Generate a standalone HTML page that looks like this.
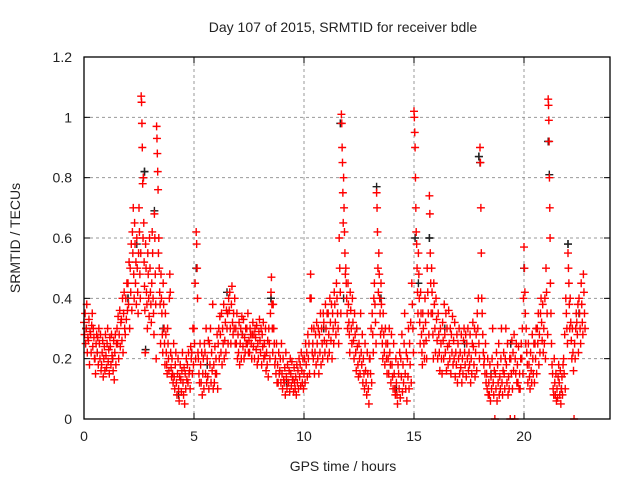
<!DOCTYPE html>
<html><head><meta charset="utf-8"><style>
body{margin:0;background:#fff}
svg text{font-family:"Liberation Sans",sans-serif;fill:#222}
</style></head><body>
<svg id="c" width="640" height="480">
<rect width="640" height="480" fill="#fff"/>
<g id="grid"></g>
<g id="blk"></g>
<g id="red"></g>
<rect x="84" y="57" width="526" height="362" fill="none" stroke="#000" stroke-width="1.3"/>
<g id="ticks"></g>
<text x="343" y="32" font-size="14" text-anchor="middle">Day 107 of 2015, SRMTID for receiver bdle</text>
<text x="343" y="471" font-size="14" text-anchor="middle">GPS time / hours</text>
<text x="20" y="238" font-size="14" text-anchor="middle" transform="rotate(-90 20 238)">SRMTID / TECUs</text>
</svg>
<script>
const xTicks=[0,5,10,15,20];
const yTicks=[0,0.2,0.4,0.6,0.8,1,1.2];
const yTickLabels=["0","0.2","0.4","0.6","0.8","1","1.2"];
const binStart=0, binWidth=0.1;
const redBins=[
[.32,.28,.35,.25],[.30,.38,.22,.27],[.26,.33,.18,.29],[.28,.22,.31,.35],[.24,.30,.27,.20],
[.20,.15,.25,.28],[.22,.27,.18,.30],[.25,.20,.28,.16],[.18,.22,.26,.14],[.20,.24,.16,.28],
[.21,.17,.25,.30],[.19,.23,.15,.27],[.24,.18,.28,.21],[.20,.16,.26,.13],[.22,.28,.18,.25],
[.30,.25,.34,.20],[.28,.36,.24,.32],[.33,.26,.40,.22],[.35,.42,.30,.28],[.40,.33,.45,.36],
[.45,.38,.52,.30],[.50,.42,.58,.36],[.62,.55,.70,.48,.40],[.65,.58,.45,.52,.38],[.60,.50,.42,.35,.55],
[.70,.62,.48,.40,.55],[1.07,1.05,.98,.90,.78,.60],[.80,.65,.52,.44,.36,.22],[.58,.50,.42,.38,.30],[.55,.48,.40,.34,.60],
[.50,.42,.38,.32,.45],[.62,.55,.40,.35,.28],[.68,.60,.48,.38,.20],[.97,.93,.88,.82,.76,.55],[.60,.50,.42,.38,.25],
[.48,.40,.35,.28,.22],[.45,.38,.30,.25,.18],[.35,.28,.22,.18,.15],[.30,.25,.20,.16,.40],[.48,.42,.22,.17,.14],
[.20,.15,.12,.25],[.14,.10,.18,.22],[.12,.08,.15,.20],[.10,.06,.14,.18],[.13,.09,.16,.22],
[.12,.08,.17,.05],[.15,.10,.20,.13],[.18,.12,.22,.15],[.16,.10,.24,.20],[.22,.15,.30,.18],
[.30,.25,.45,.20],[.62,.58,.50,.40,.22],[.20,.15,.12,.25],[.18,.12,.22,.08],[.15,.20,.10,.25],
[.22,.15,.30,.12],[.20,.14,.26,.10],[.25,.18,.30,.12],[.22,.16,.38,.10],[.18,.12,.24,.15],
[.20,.15,.28,.10],[.25,.30,.20,.34],[.28,.22,.35,.18],[.30,.25,.38,.20],[.26,.32,.22,.36],
[.30,.35,.25,.40],[.36,.42,.30,.25],[.38,.44,.32,.28],[.35,.30,.40,.25],[.30,.25,.35,.20],
[.28,.22,.32,.18],[.25,.30,.20,.34],[.28,.24,.33,.20],[.27,.22,.30,.25],[.30,.25,.35,.22],
[.26,.22,.30,.28],[.25,.20,.28,.32],[.24,.28,.20,.30],[.27,.23,.31,.18],[.25,.20,.29,.33],
[.26,.22,.30,.18],[.28,.24,.32,.20],[.25,.21,.30,.16],[.22,.18,.26,.14],[.30,.25,.20,.35],
[.42,.47,.38,.30,.22],[.38,.30,.25,.18],[.20,.15,.25,.12],[.18,.12,.22,.15],[.16,.20,.12,.25],
[.15,.10,.20,.13],[.12,.17,.08,.22],[.14,.10,.18,.12],[.12,.16,.09,.20],[.15,.11,.19,.13],
[.13,.09,.17,.12],[.10,.14,.08,.18],[.12,.16,.10,.20],[.14,.18,.11,.22],[.16,.12,.20,.10],
[.15,.20,.12,.25],[.18,.22,.14,.28],[.20,.25,.15,.40],[.48,.40,.30,.22],[.25,.20,.30,.15],
[.22,.28,.18,.32],[.25,.20,.30,.15],[.28,.22,.35,.18],[.30,.25,.20,.35],[.32,.26,.22,.38],
[.30,.25,.35,.20],[.35,.28,.22,.40],[.32,.26,.38,.20],[.35,.30,.25,.42],[.38,.32,.28,.45],
[.40,.35,.30,.25],[.60,.50,.42,.35],[1.01,.98,.90,.85,.75,.65],[.80,.70,.62,.55,.48],[.50,.45,.40,.35,.30],
[.45,.38,.32,.28,.22],[.42,.36,.30,.25],[.40,.32,.26,.20],[.35,.28,.22,.16],[.30,.24,.18,.14],
[.25,.20,.15,.35],[.22,.18,.28,.12],[.20,.15,.10,.25],[.16,.12,.08,.22],[.15,.10,.05,.20],
[.20,.15,.30,.12],[.35,.28,.22,.40],[.45,.38,.32,.25],[.75,.70,.62,.50,.42],[.55,.48,.40,.35,.28],
[.45,.38,.30,.25,.20],[.35,.28,.22,.18],[.30,.25,.20,.15],[.25,.20,.15,.30],[.22,.18,.12,.28],
[.18,.14,.10,.25],[.15,.10,.08,.20],[.12,.08,.05,.18],[.15,.10,.22,.07],[.20,.14,.28,.09],
[.18,.12,.25,.35],[.15,.10,.22,.06],[.20,.14,.30,.10],[.25,.18,.32,.12],[.45,.38,.30,.22],
[1.02,1.0,.95,.90,.80,.70],[.62,.58,.50,.42,.35],[.55,.48,.40,.32,.25],[.42,.35,.28,.22,.18],[.35,.30,.25,.20],
[.40,.32,.26,.20],[.50,.42,.35,.28],[.74,.68,.55,.45,.35],[.50,.42,.35,.28,.20],[.45,.38,.30,.22],
[.40,.33,.26,.20],[.35,.28,.22,.16],[.30,.25,.20,.15],[.32,.26,.20,.38],[.28,.22,.35,.16],
[.30,.24,.18,.36],[.25,.20,.30,.15],[.28,.22,.34,.18],[.26,.20,.32,.14],[.22,.18,.28,.12],
[.25,.20,.30,.15],[.22,.17,.28,.12],[.20,.15,.26,.30],[.22,.18,.28,.14],[.25,.20,.30,.16],
[.22,.18,.28,.12],[.20,.15,.25,.32],[.24,.18,.30,.14],[.22,.28,.16,.35],[.30,.40,.25,.20],
[.90,.85,.70,.55,.40],[.35,.28,.22,.18],[.20,.15,.25,.12],[.15,.10,.20,.08],[.12,.08,.18,.06],
[.14,.10,.20,.30],[.12,.08,.16,0],[.15,.10,.22,.06],[.18,.12,.25,.08],[.14,.10,.20,.30],
[.12,.08,.16,.22],[.15,.10,.20,.30],[.18,.12,.25,.08],[.14,.10,.20,0],[.20,.15,.26,.10],
[.22,.16,.28,0],[.20,.15,.25,.12],[.18,.12,.24,.10],[.15,.10,.20,.25],[.20,.30,.15,.40],
[.57,.50,.42,.35,.25],[.30,.22,.18,.12],[.25,.18,.14,.10],[.22,.16,.12,.28],[.20,.15,.25,.12],
[.25,.20,.30,.15],[.30,.25,.35,.18],[.28,.22,.35,.40],[.32,.26,.38,.22],[.30,.25,.40,.20],
[.50,.42,.35,.28],[1.06,1.04,.99,.92,.80,.70,.60],[.45,.35,.25,.18],[.15,.10,.08,.20],[.12,.08,.15,.06],
[.10,.07,.14,.18],[.12,.08,.16,.05],[.10,.14,.08,.18],[.20,.15,.28,.10],[.40,.35,.30,.25],
[.55,.50,.45,.38,.30],[.40,.32,.26,.20],[.30,.22,.16,0],[.25,.20,.30,.35],[.32,.28,.38,.22],
[.40,.35,.30,.25],[.45,.38,.32,.28],[.48,.42,.35,.30]
];
const blackTimes=[0.1,0.6,1.3,2.0,2.4,2.7,2.75,2.8,3.2,3.6,4.3,5.1,5.6,6.5,7.2,8.5,9.2,10.3,10.9,11.65,11.8,12.4,13.3,13.5,14.2,15.05,15.2,15.7,16.4,17.3,17.95,18.0,18.5,19.4,20.0,20.6,21.1,21.15,21.7,22.0,22.5];
const blackValues=[0.30,0.22,0.20,0.40,0.58,0.80,0.82,0.23,0.69,0.30,0.08,0.50,0.18,0.42,0.28,0.40,0.12,0.40,0.30,0.98,0.40,0.30,0.77,0.40,0.10,0.60,0.45,0.60,0.30,0.25,0.87,0.85,0.15,0.25,0.50,0.30,0.92,0.81,0.10,0.58,0.35];

const L=84,R=610,T=57,B=419,pxPerHour=22;
const xs=t=>L+t*pxPerHour;
const ys=v=>B-v/1.2*(B-T);
const NS="http://www.w3.org/2000/svg";
function mk(tag,attrs,parent){const e=document.createElementNS(NS,tag);for(const k in attrs)e.setAttribute(k,attrs[k]);parent.appendChild(e);return e;}
const grid=document.getElementById('grid'),ticks=document.getElementById('ticks');
xTicks.forEach(t=>{
  const x=xs(t);
  if(t>0){const g=mk('line',{x1:x,x2:x,y1:T,y2:B,stroke:'#999','stroke-dasharray':'3,3'},grid);
  
  }
  mk('line',{x1:x,x2:x,y1:B,y2:B-6,stroke:'#000'},ticks);
  mk('line',{x1:x,x2:x,y1:T,y2:T+6,stroke:'#000'},ticks);
  const tx=mk('text',{x:x,y:B+22,'font-size':14,'text-anchor':'middle'},ticks);tx.textContent=t;
  
  
});
yTicks.forEach((v,i)=>{
  const y=ys(v);
  if(v>0&&v<1.2){const g=mk('line',{x1:L,x2:R,y1:y,y2:y,stroke:'#999','stroke-dasharray':'3,3'},grid);
  
  }
  mk('line',{x1:L,x2:L+6,y1:y,y2:y,stroke:'#000'},ticks);
  mk('line',{x1:R,x2:R-6,y1:y,y2:y,stroke:'#000'},ticks);
  const tx=mk('text',{x:L-12,y:y+5,'font-size':14,'text-anchor':'end'},ticks);tx.textContent=yTickLabels[i];
  
  
});
function plus(g,t,v,col){
  const x=xs(t),y=ys(v);
  const p=mk('path',{d:`M${x-4} ${y}H${x+4}M${x} ${y-4}V${Math.min(y+4,B)}`,stroke:col,'stroke-width':1.4,fill:'none'},g);
  
  
}
const blk=document.getElementById('blk'),red=document.getElementById('red');
blackTimes.forEach((t,i)=>plus(blk,t,blackValues[i],'#222'));
redBins.forEach((vals,b)=>{vals.forEach((v,j)=>plus(red,binStart+b*binWidth+j*binWidth/vals.length,v,'#f00'));});
blackTimes.forEach((t,i)=>{if(i%3===0)plus(blk,t,blackValues[i],'#222');});
</script>
</body></html>
